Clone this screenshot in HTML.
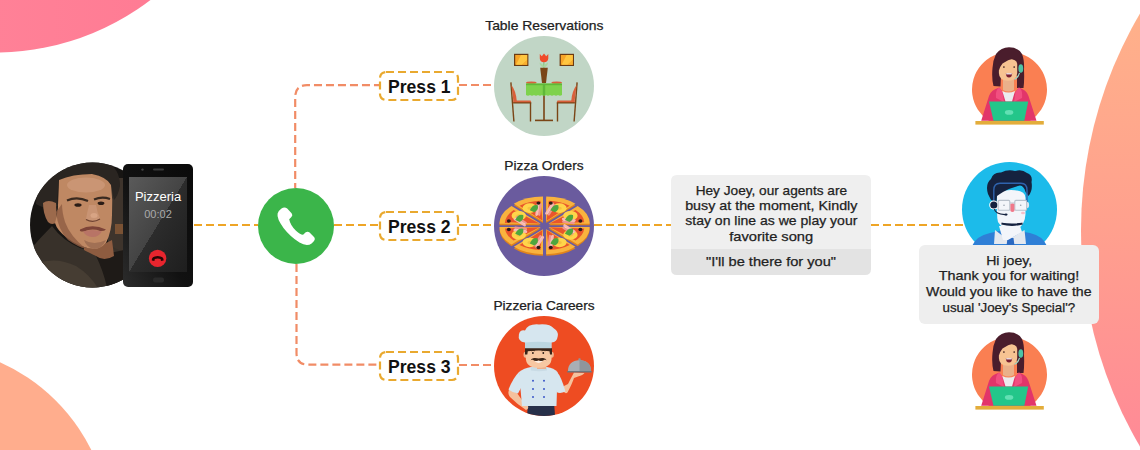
<!DOCTYPE html>
<html><head><meta charset="utf-8">
<style>
html,body{margin:0;padding:0;background:#fff;width:1140px;height:450px;overflow:hidden}
svg{display:block}
text{font-family:"Liberation Sans",sans-serif}
</style></head><body>
<svg width="1140" height="450" viewBox="0 0 1140 450">
<defs>
  <linearGradient id="gTL" x1="0" y1="0" x2="1" y2="0">
    <stop offset="0" stop-color="#ff8a9c"/><stop offset="1" stop-color="#ff7892"/>
  </linearGradient>
  <linearGradient id="gR" gradientUnits="userSpaceOnUse" x1="0" y1="10" x2="0" y2="445">
    <stop offset="0" stop-color="#ffb18a"/><stop offset="0.5" stop-color="#ffa08e"/><stop offset="1" stop-color="#ff8a96"/>
  </linearGradient>
  <clipPath id="cChef"><circle cx="50" cy="50" r="50"/></clipPath>
  <clipPath id="cJoey"><circle cx="92.5" cy="225" r="62.5"/></clipPath>
  <linearGradient id="gScreen" x1="0" y1="0" x2="1" y2="1">
    <stop offset="0" stop-color="#5a5a5a"/><stop offset="0.5" stop-color="#444"/><stop offset="0.5" stop-color="#2c2c2c"/><stop offset="1" stop-color="#1e1e1e"/>
  </linearGradient>
  <g id="agentF">
    <path d="M24.15 81 A37.5 37.5 0 1 1 64.85 81 Z" fill="#fa7f52"/>
    <!-- hair back -->
    <path d="M28.5 46 Q26.5 38 27.5 28 Q28 20 31 14 Q36 7.2 44 7.2 Q53 7.2 57 14 Q59.5 20 59 30 Q59.5 40 58.5 48 L52 48 L52 36 H36 L35.5 46.5Z" fill="#4a1d2c"/>
    <!-- neck -->
    <path d="M38 38 H49 V50 Q43.5 53 38 50Z" fill="#eab08a"/>
    <!-- face -->
    <path d="M33.9 24 Q34 19 43 19 Q52 19 52.2 24 V33 Q52 40.7 43 40.7 Q34 40.7 33.9 33Z" fill="#f7c392"/>
    <!-- bangs -->
    <path d="M30 26 Q31 9 45 9 Q55 9 56.5 18 L53.5 25 Q52.5 19.5 49 18.2 Q43 19.5 37.5 23.5 Q35 26.5 33.9 30.5 Z" fill="#4a1d2c"/>
    <!-- eyes -->
    <circle cx="38.9" cy="27" r="0.85" fill="#3a1a1a"/>
    <circle cx="49.2" cy="27" r="0.85" fill="#3a1a1a"/>
    <!-- mouth -->
    <path d="M40.8 33.2 H47.2 Q47 37.4 44 37.4 Q41 37.4 40.8 33.2Z" fill="#7a1f32"/>
    <path d="M41.2 33.2 H46.8 V34.4 H41.2Z" fill="#fff"/>
    <!-- headset -->
    <ellipse cx="55.8" cy="28.5" rx="2.4" ry="4.3" fill="#4ec3a4"/>
    <path d="M54.5 33 Q53.5 37 49.5 39.5" stroke="#9ad8c6" stroke-width="1.1" fill="none"/>
    <!-- jacket -->
    <path d="M16.2 80.7 L24 56 Q26 50 34.3 47.6 L43.5 60 L53.9 47.6 Q61.5 50 63.5 56 L71.5 80.7Z" fill="#e2356a"/>
    <path d="M34.3 47.6 Q30 50 31 58 L39 62 L37.5 52Z" fill="#f14f80"/>
    <path d="M53.9 47.6 Q58 50 57 58 L49 62 L50.5 52Z" fill="#f14f80"/>
    <!-- shirt -->
    <path d="M37.3 51 Q43.5 54 50 51 L47 61.6 H40.5Z" fill="#ebebee"/>
    <!-- laptop -->
    <path d="M24 61.6 H63.2 L59.3 80.7 H28.5Z" fill="#23c68a"/>
    <ellipse cx="44.1" cy="72.4" rx="4.2" ry="2.3" fill="#62e0b4"/>
    <!-- desk -->
    <rect x="10.4" y="81" width="68.4" height="3.6" fill="#e3ad3b"/>
  </g>
  <linearGradient id="gBody" x1="1" y1="0" x2="0" y2="1">
    <stop offset="0" stop-color="#0a0a0a"/><stop offset="0.55" stop-color="#111"/><stop offset="1" stop-color="#2c2c2c"/>
  </linearGradient>
</defs>

<!-- background blobs -->
<circle cx="-5" cy="-204" r="256.5" fill="url(#gTL)"/>
<circle cx="-76" cy="532.6" r="186.6" fill="#ffad8d"/>
<circle cx="1508" cy="230" r="427" fill="url(#gR)"/>

<!-- connector lines -->
<g fill="none" stroke-width="2.2">
  <path d="M193 225 H258" stroke="#eea526" stroke-dasharray="8 4" stroke-dashoffset="-1"/>
  <path d="M334 225 H379" stroke="#eea526" stroke-dasharray="8 4"/>
  <path d="M459 225 H494" stroke="#eea526" stroke-dasharray="8 4"/>
  <path d="M594 225 H671" stroke="#eea526" stroke-dasharray="8 4"/>
  <path d="M871 225 H963" stroke="#eea526" stroke-dasharray="8 4"/>
  <path d="M295.2 188 V97 Q295.2 85.2 307 85.2 H379" stroke="#f18c66" stroke-dasharray="8 4" stroke-dashoffset="3"/>
  <path d="M459 85 H494" stroke="#f18c66" stroke-dasharray="8 4"/>
  <path d="M296.5 264 V353 Q296.5 364.6 308 364.6 H379" stroke="#f18c66" stroke-dasharray="8 4"/>
  <path d="M459 365 H494" stroke="#f18c66" stroke-dasharray="8 4"/>
</g>

<!-- press boxes -->
<g fill="#fff" stroke="#e9a92f" stroke-width="2.2" stroke-dasharray="8 4">
  <rect x="380" y="72" width="78" height="28" rx="6"/>
  <rect x="380" y="212" width="78" height="28" rx="6"/>
  <rect x="380" y="352" width="78" height="28" rx="6"/>
</g>
<g font-weight="bold" font-size="17.6" fill="#111" text-anchor="middle">
  <text x="419.3" y="92.7" textLength="62.6" lengthAdjust="spacingAndGlyphs">Press 1</text>
  <text x="419.3" y="232.7" textLength="62.6" lengthAdjust="spacingAndGlyphs">Press 2</text>
  <text x="419.3" y="372.7" textLength="62.6" lengthAdjust="spacingAndGlyphs">Press 3</text>
</g>

<!-- Joey photo placeholder -->
<g clip-path="url(#cJoey)">
  <rect x="28" y="160" width="130" height="130" fill="#171513"/>
  <!-- right background -->
  <rect x="108" y="178" width="22" height="75" fill="#3e342c"/>
  <rect x="115" y="224" width="10" height="10" fill="#7a5234"/>
  <!-- jacket -->
  <path d="M28 252 Q40 238 52 226 Q62 240 80 248 L96 252 L110 246 L128 254 L160 262 V292 H28Z" fill="#38312a"/>
  <path d="M34 264 Q56 256 76 266 Q92 276 100 292 H38Z" fill="#463d33"/>
  <path d="M42 274 Q62 276 78 292" stroke="#2a241e" stroke-width="1.2" fill="none"/>
  <path d="M96 256 L124 250 V292 H108 Q104 272 96 256Z" fill="#1e1a17"/>
  <!-- neck -->
  <path d="M84 247 Q96 251 106 243 L112 240 L114 256 Q104 262 96 256 Q88 252 84 250Z" fill="#8e5c40"/>
  <!-- hair -->
  <path d="M36 204 Q36 176 58 166 Q84 156 106 162 Q120 168 120 186 Q118 196 114 200 L111 186 Q107 177 92 174 Q72 174 59 180 Q57 192 58 206 L50 208 Q42 208 36 204Z" fill="#2a2521"/>
  <!-- ear -->
  <path d="M43 203 Q48 199 56 203 L57 222 Q52 226 48 222 Q43 214 43 203Z" fill="#9c6a4c"/>
  <!-- face -->
  <path d="M59 180 Q72 174 92 174 Q107 177 111 185 Q113 200 112 215 Q112 231 106 243 Q100 249 94 249 Q80 248 66 237 Q57 230 55 223 Q58 212 58 205 Z" fill="#bf8863"/>
  <!-- forehead highlight -->
  <ellipse cx="86" cy="185" rx="19" ry="7.5" fill="#cd9a7a" opacity="0.75"/>
  <!-- cheek shadow left -->
  <path d="M56 212 Q58 230 68 240 Q78 247 86 249 Q70 236 65 222 Q62 212 62 204Z" fill="#8e5c42" opacity="0.8"/>
  <!-- brows -->
  <path d="M67 200.5 Q77 196 88 201" stroke="#3a2a20" stroke-width="2.2" fill="none"/>
  <path d="M94 199.5 Q102 196 110 199" stroke="#3a2a20" stroke-width="2.2" fill="none"/>
  <!-- eyes -->
  <ellipse cx="78" cy="205" rx="3.6" ry="1.8" fill="#2a1c16"/>
  <ellipse cx="101" cy="203.3" rx="3.4" ry="1.8" fill="#2a1c16"/>
  <!-- nose -->
  <path d="M89 205 Q87 213 86 219 Q90 223 94 222 Q99 222 100 218 Q97 212 96 205Z" fill="#c99474"/>
  <ellipse cx="94" cy="215.5" rx="3.5" ry="2.5" fill="#d8a484"/>
  <path d="M86 219.5 Q93 223.5 100 219" stroke="#6e4230" stroke-width="1.2" fill="none"/>
  <!-- lips -->
  <path d="M80 229.5 Q92 223 106 229.5 Q104 231.5 100 231 Q92 228 84 231.5 Q79 232 80 229.5Z" fill="#7e4438"/>
  <path d="M83 231.5 Q92 228.5 102 231.5 Q98 237.5 92 237 Q86 236.5 83 231.5Z" fill="#b87466"/>
  <!-- chin shadow -->
  <path d="M84 240 Q94 246 106 240 Q102 249 94 249 Q86 247 84 240Z" fill="#9a6a50" opacity="0.8"/>
</g>

<!-- phone -->
<rect x="123" y="164" width="70" height="123" rx="5" fill="url(#gBody)"/>
<rect x="129" y="177" width="58" height="95" fill="url(#gScreen)"/>
<circle cx="142.5" cy="169.6" r="1.2" fill="#444"/>
<rect x="153" y="168.6" width="11" height="2" rx="1" fill="#3a3a3a"/>
<rect x="153" y="277.5" width="11" height="5" rx="2" fill="#2a2a2a"/>
<text x="158" y="201" font-size="13" fill="#fff" text-anchor="middle">Pizzeria</text>
<text x="158" y="218" font-size="11" fill="#aaa" text-anchor="middle">00:02</text>
<circle cx="157.6" cy="258.4" r="8.7" fill="#e8252e"/>
<path d="M151.8 260.6 Q151.2 256.4 157.7 256 Q164.2 256.4 163.6 260.6 L161 260.9 L160.6 258.9 Q157.7 258.1 154.8 258.9 L154.4 260.9Z" fill="#2a0606"/>

<!-- green call circle -->
<circle cx="296" cy="226" r="38" fill="#3bb54a"/>
<path transform="translate(270 200)" d="M11.5 8.6 Q14.5 6.2 17.2 8.6 L21.6 13.2 Q23.2 15.2 21.4 17 L19.2 19.2 Q20.2 25 26 30.8 Q31 35.2 33.4 34.6 L35.4 32.6 Q37.6 30.8 39.6 32.6 L44 37 Q45.8 39.2 43.6 41.4 L41.6 43.4 Q37 47 29.5 42.6 Q20 36.5 13.5 28 Q6.5 18.5 7.6 13.6 Q8.4 10.8 11.5 8.6Z" fill="#fff"/>

<!-- titles -->
<g font-size="13" fill="#222" stroke="#222" stroke-width="0.25" text-anchor="middle">
  <text x="544.3" y="29.6" textLength="118.2" lengthAdjust="spacingAndGlyphs">Table Reservations</text>
  <text x="544" y="169.8" textLength="79.3" lengthAdjust="spacingAndGlyphs">Pizza Orders</text>
  <text x="544" y="309.8" textLength="101.2" lengthAdjust="spacingAndGlyphs">Pizzeria Careers</text>
</g>

<!-- service circles -->
<circle cx="544" cy="86" r="50" fill="#c1d6c6"/>
<g transform="translate(494 36)">
  <!-- frames -->
  <rect x="20" y="17.8" width="14.4" height="12.2" fill="#6b3a12"/>
  <path d="M21.2 19 H33.2 V28.8 H21.2Z" fill="#f7a428"/>
  <path d="M27 19 H33.2 V24 L28 28.8 H22Z" fill="#ffc640"/>
  <path d="M33.2 24 V28.8 H28Z" fill="#f9b030"/>
  <rect x="65.6" y="17.8" width="14.4" height="12.2" fill="#6b3a12"/>
  <path d="M66.8 19 H78.8 V28.8 H66.8Z" fill="#f7a428"/>
  <path d="M72.6 19 H78.8 V24 L73.6 28.8 H67.6Z" fill="#ffc640"/>
  <path d="M78.8 24 V28.8 H73.6Z" fill="#f9b030"/>
  <!-- tulip -->
  <path d="M49.8 25 V32" stroke="#8fc88a" stroke-width="1.4"/>
  <path d="M49.8 31.5 Q45.5 30 45.6 26.5 Q48.5 27.5 49.8 30Z" fill="#a9d8a0"/>
  <path d="M49.8 31.5 Q54 30 54 26.5 Q51 27.5 49.8 30Z" fill="#a9d8a0"/>
  <path d="M45.8 18 L47.8 20.2 L50 17.4 L52.2 20.2 L54.3 18 L54.3 22.5 Q54 26.2 50 26.2 Q46 26.2 45.8 22.5Z" fill="#f04a2a"/>
  <!-- vase -->
  <path d="M46.2 31.8 H53.8 L52 47 H48Z" fill="#7a4516"/>
  <!-- plates -->
  <ellipse cx="37.3" cy="46.8" rx="5.3" ry="1.3" fill="#d9603b"/>
  <ellipse cx="62.7" cy="46.8" rx="5.3" ry="1.3" fill="#d9603b"/>
  <!-- chairs -->
  <g fill="#7a4516">
    <path d="M16.2 46.5 L17.6 46.3 L20.6 85.5 L19.2 85.5Z"/>
    <rect x="35.8" y="66.5" width="1.4" height="19"/>
    <path d="M83.8 46.5 L82.4 46.3 L79.4 85.5 L80.8 85.5Z"/>
    <rect x="62.8" y="66.5" width="1.4" height="19"/>
  </g>
  <path d="M17.4 49 Q22 55 22.8 65 L19.4 65Z" fill="#d9603b"/>
  <path d="M82.6 49 Q78 55 77.2 65 L80.6 65Z" fill="#d9603b"/>
  <path d="M19 64.5 H36.5 Q37.5 65.5 37 67 H19.4Z" fill="#d9603b"/>
  <path d="M19 66.2 H37.2 V67.6 H19.2Z" fill="#7a4516"/>
  <path d="M81 64.5 H63.5 Q62.5 65.5 63 67 H80.6Z" fill="#d9603b"/>
  <path d="M81 66.2 H62.8 V67.6 H80.8Z" fill="#7a4516"/>
  <!-- table -->
  <rect x="49.2" y="58" width="1.6" height="26.5" fill="#7a4516"/>
  <rect x="41" y="83.6" width="18" height="1.6" fill="#7a4516"/>
  <path d="M32 47.6 H68 V59 Q66 60.5 64 59 Q62 60.5 60 59 Q58 60.5 56 59 Q54 60.5 52 59 Q50 60.5 48 59 Q46 60.5 44 59 Q42 60.5 40 59 Q38 60.5 36 59 Q34 60.5 32 59Z" fill="#7ed24c"/>
  <rect x="32" y="47.6" width="36" height="1.6" fill="#5fb83a"/>
  <rect x="48.8" y="47.6" width="2.4" height="12" fill="#5fb83a"/>
</g>
<circle cx="544" cy="226" r="50" fill="#6a5b9e"/>
<g id="pizza" transform="translate(494 176)">
<path d="M54.48 52.51 L95.78 52.51 A41.30 25.00 0 0 1 83.68 70.18 Z" fill="#e0841c"/>
<path d="M52.21 54.78 L81.41 72.46 A41.30 25.00 0 0 1 52.21 79.78 Z" fill="#e0841c"/>
<path d="M48.99 54.78 L48.99 79.78 A41.30 25.00 0 0 1 19.79 72.46 Z" fill="#e0841c"/>
<path d="M46.72 52.51 L17.52 70.18 A41.30 25.00 0 0 1 5.42 52.51 Z" fill="#e0841c"/>
<path d="M46.72 49.29 L5.42 49.29 A41.30 25.00 0 0 1 17.52 31.62 Z" fill="#e0841c"/>
<path d="M48.99 47.02 L19.79 29.34 A41.30 25.00 0 0 1 48.99 22.02 Z" fill="#e0841c"/>
<path d="M52.21 47.02 L52.21 22.02 A41.30 25.00 0 0 1 81.41 29.34 Z" fill="#e0841c"/>
<path d="M54.48 49.29 L83.68 31.62 A41.30 25.00 0 0 1 95.78 49.29 Z" fill="#e0841c"/>
<path d="M54.48 50.91 L95.78 50.91 A41.30 25.00 0 0 1 83.68 68.58 Z" fill="#f9b33e"/>
<path d="M52.21 53.18 L81.41 70.86 A41.30 25.00 0 0 1 52.21 78.18 Z" fill="#f9b33e"/>
<path d="M48.99 53.18 L48.99 78.18 A41.30 25.00 0 0 1 19.79 70.86 Z" fill="#f9b33e"/>
<path d="M46.72 50.91 L17.52 68.58 A41.30 25.00 0 0 1 5.42 50.91 Z" fill="#f9b33e"/>
<path d="M46.72 47.69 L5.42 47.69 A41.30 25.00 0 0 1 17.52 30.02 Z" fill="#f9b33e"/>
<path d="M48.99 45.42 L19.79 27.74 A41.30 25.00 0 0 1 48.99 20.42 Z" fill="#f9b33e"/>
<path d="M52.21 45.42 L52.21 20.42 A41.30 25.00 0 0 1 81.41 27.74 Z" fill="#f9b33e"/>
<path d="M54.48 47.69 L83.68 30.02 A41.30 25.00 0 0 1 95.78 47.69 Z" fill="#f9b33e"/>
<path d="M55.59 51.21 L90.22 52.41 A34.69 20.00 0 0 1 81.55 64.48 Z" fill="#e9552b"/>
<path d="M52.67 53.92 L75.68 68.88 A34.69 20.00 0 0 1 54.75 73.88 Z" fill="#e9552b"/>
<path d="M48.53 53.92 L46.45 73.88 A34.69 20.00 0 0 1 25.52 68.88 Z" fill="#e9552b"/>
<path d="M45.61 51.21 L19.65 64.48 A34.69 20.00 0 0 1 10.98 52.41 Z" fill="#e9552b"/>
<path d="M45.61 47.39 L10.98 46.19 A34.69 20.00 0 0 1 19.65 34.12 Z" fill="#e9552b"/>
<path d="M48.53 44.68 L25.52 29.72 A34.69 20.00 0 0 1 46.45 24.72 Z" fill="#e9552b"/>
<path d="M52.67 44.68 L54.75 24.72 A34.69 20.00 0 0 1 75.68 29.72 Z" fill="#e9552b"/>
<path d="M55.59 47.39 L81.55 34.12 A34.69 20.00 0 0 1 90.22 46.19 Z" fill="#e9552b"/>
<ellipse cx="76.41" cy="58.91" rx="7.2" ry="4.8" fill="#ffd54a"/>
<ellipse cx="76.41" cy="58.91" rx="2.4" ry="1.5" fill="#f5c040"/>
<g transform="translate(74.66 53.55) rotate(32.2)"><rect x="-7" y="-2.6" width="14" height="2.4" rx="1.2" fill="#f7b8b2"/><rect x="-6.5" y="0.2" width="13" height="2.2" rx="1.1" fill="#ef9590"/><rect x="-6" y="-0.4" width="12" height="0.6" fill="#fbe0dc"/></g>
<path d="M70.97 57.67 Q73.97 51.17 78.97 52.67 Q79.97 57.67 75.47 59.67Z" fill="#4fa63e"/>
<ellipse cx="86.37" cy="53.54" rx="2" ry="1.7" fill="#2b1a17"/>
<ellipse cx="65.43" cy="66.45" rx="7.2" ry="4.8" fill="#ffd54a"/>
<ellipse cx="65.43" cy="66.45" rx="2.4" ry="1.5" fill="#f5c040"/>
<g transform="translate(56.57 65.40) rotate(97.8)"><rect x="-7" y="-2.6" width="14" height="2.4" rx="1.2" fill="#f7b8b2"/><rect x="-6.5" y="0.2" width="13" height="2.2" rx="1.1" fill="#ef9590"/><rect x="-6" y="-0.4" width="12" height="0.6" fill="#fbe0dc"/></g>
<path d="M56.40 67.38 Q59.40 60.88 64.40 62.38 Q65.40 67.38 60.90 69.38Z" fill="#4fa63e"/>
<ellipse cx="56.79" cy="71.49" rx="2" ry="1.7" fill="#2b1a17"/>
<ellipse cx="35.77" cy="66.45" rx="7.2" ry="4.8" fill="#ffd54a"/>
<ellipse cx="35.77" cy="66.45" rx="2.4" ry="1.5" fill="#f5c040"/>
<g transform="translate(44.63 65.40) rotate(122.2)"><rect x="-7" y="-2.6" width="14" height="2.4" rx="1.2" fill="#f7b8b2"/><rect x="-6.5" y="0.2" width="13" height="2.2" rx="1.1" fill="#ef9590"/><rect x="-6" y="-0.4" width="12" height="0.6" fill="#fbe0dc"/></g>
<path d="M35.80 67.38 Q38.80 60.88 43.80 62.38 Q44.80 67.38 40.30 69.38Z" fill="#4fa63e"/>
<ellipse cx="44.41" cy="71.49" rx="2" ry="1.7" fill="#2b1a17"/>
<ellipse cx="24.79" cy="58.91" rx="7.2" ry="4.8" fill="#ffd54a"/>
<ellipse cx="24.79" cy="58.91" rx="2.4" ry="1.5" fill="#f5c040"/>
<g transform="translate(26.54 53.55) rotate(187.8)"><rect x="-7" y="-2.6" width="14" height="2.4" rx="1.2" fill="#f7b8b2"/><rect x="-6.5" y="0.2" width="13" height="2.2" rx="1.1" fill="#ef9590"/><rect x="-6" y="-0.4" width="12" height="0.6" fill="#fbe0dc"/></g>
<path d="M21.23 57.67 Q24.23 51.17 29.23 52.67 Q30.23 57.67 25.73 59.67Z" fill="#4fa63e"/>
<ellipse cx="14.83" cy="53.54" rx="2" ry="1.7" fill="#2b1a17"/>
<ellipse cx="24.79" cy="39.69" rx="7.2" ry="4.8" fill="#ffd54a"/>
<ellipse cx="24.79" cy="39.69" rx="2.4" ry="1.5" fill="#f5c040"/>
<g transform="translate(26.54 45.05) rotate(212.2)"><rect x="-7" y="-2.6" width="14" height="2.4" rx="1.2" fill="#f7b8b2"/><rect x="-6.5" y="0.2" width="13" height="2.2" rx="1.1" fill="#ef9590"/><rect x="-6" y="-0.4" width="12" height="0.6" fill="#fbe0dc"/></g>
<path d="M21.23 43.93 Q24.23 37.43 29.23 38.93 Q30.23 43.93 25.73 45.93Z" fill="#4fa63e"/>
<ellipse cx="14.83" cy="45.06" rx="2" ry="1.7" fill="#2b1a17"/>
<ellipse cx="35.77" cy="32.15" rx="7.2" ry="4.8" fill="#ffd54a"/>
<ellipse cx="35.77" cy="32.15" rx="2.4" ry="1.5" fill="#f5c040"/>
<g transform="translate(44.63 33.20) rotate(277.8)"><rect x="-7" y="-2.6" width="14" height="2.4" rx="1.2" fill="#f7b8b2"/><rect x="-6.5" y="0.2" width="13" height="2.2" rx="1.1" fill="#ef9590"/><rect x="-6" y="-0.4" width="12" height="0.6" fill="#fbe0dc"/></g>
<path d="M35.80 34.22 Q38.80 27.72 43.80 29.22 Q44.80 34.22 40.30 36.22Z" fill="#4fa63e"/>
<ellipse cx="44.41" cy="27.11" rx="2" ry="1.7" fill="#2b1a17"/>
<ellipse cx="65.43" cy="32.15" rx="7.2" ry="4.8" fill="#ffd54a"/>
<ellipse cx="65.43" cy="32.15" rx="2.4" ry="1.5" fill="#f5c040"/>
<g transform="translate(56.57 33.20) rotate(302.2)"><rect x="-7" y="-2.6" width="14" height="2.4" rx="1.2" fill="#f7b8b2"/><rect x="-6.5" y="0.2" width="13" height="2.2" rx="1.1" fill="#ef9590"/><rect x="-6" y="-0.4" width="12" height="0.6" fill="#fbe0dc"/></g>
<path d="M56.40 34.22 Q59.40 27.72 64.40 29.22 Q65.40 34.22 60.90 36.22Z" fill="#4fa63e"/>
<ellipse cx="56.79" cy="27.11" rx="2" ry="1.7" fill="#2b1a17"/>
<ellipse cx="76.41" cy="39.69" rx="7.2" ry="4.8" fill="#ffd54a"/>
<ellipse cx="76.41" cy="39.69" rx="2.4" ry="1.5" fill="#f5c040"/>
<g transform="translate(74.66 45.05) rotate(367.8)"><rect x="-7" y="-2.6" width="14" height="2.4" rx="1.2" fill="#f7b8b2"/><rect x="-6.5" y="0.2" width="13" height="2.2" rx="1.1" fill="#ef9590"/><rect x="-6" y="-0.4" width="12" height="0.6" fill="#fbe0dc"/></g>
<path d="M70.97 43.93 Q73.97 37.43 78.97 38.93 Q79.97 43.93 75.47 45.93Z" fill="#4fa63e"/>
<ellipse cx="86.37" cy="45.06" rx="2" ry="1.7" fill="#2b1a17"/>

</g>
<circle cx="544" cy="366" r="50" fill="#ee4c22"/>
<g id="chef" transform="translate(494 316)" clip-path="url(#cChef)">
  <!-- pants -->
  <path d="M33.9 89.5 H60.3 L61 100 H33Z" fill="#27304a"/>
  <!-- left arm (hand on hip) -->
  <path d="M15.5 73 Q13 77 16 81 Q24 89 32 94 Q35 93 34 90 Q27 84 23 77Z" fill="#f5c19d"/>
  <path d="M25 56 Q19 62 14.5 73.5 Q19 77 24 77.5 L28.5 69Z" fill="#d6e6ef"/>
  <!-- right arm (raised holding tray) -->
  <path d="M68.5 74 Q71 79 73.5 76.5 Q78 68 80 62 L84 60.5 Q89 59 90.5 57 L80 56.5 Q77 62 74 68 L70 70Z" fill="#f5c19d"/>
  <path d="M63 56 Q67 60 71.5 75.5 Q66 78 62.5 76Z" fill="#d6e6ef"/>
  <!-- body -->
  <path d="M25 56 Q30 52 37 51 H53 Q60 52 63.5 56 L62.5 90 H28Z" fill="#d6e6ef"/>
  <path d="M36.8 51 H53 V54.5 Q45 56 36.8 54.5Z" fill="#c9dbe5"/>
  <g fill="#3a56c8">
    <circle cx="39" cy="64.8" r="1"/><circle cx="50" cy="64.8" r="1"/>
    <circle cx="39" cy="72.9" r="1"/><circle cx="50" cy="72.9" r="1"/>
    <circle cx="39" cy="80.9" r="1"/><circle cx="50" cy="80.9" r="1"/>
  </g>
  <!-- neck -->
  <rect x="43" y="47" width="9" height="6" fill="#eeb08c"/>
  <!-- ears -->
  <ellipse cx="31.5" cy="38.8" rx="2" ry="3" fill="#f0b48e"/>
  <ellipse cx="57.8" cy="38.8" rx="2" ry="3" fill="#f0b48e"/>
  <!-- face -->
  <path d="M31.8 32 H57.6 V42 Q57.6 51.8 44.7 51.8 Q31.8 51.8 31.8 42Z" fill="#f7c7a2"/>
  <!-- hair -->
  <path d="M31 32 H58 V38.5 L56 38.5 L55.5 35.2 Q44.7 34 33.8 35.2 L33.3 38.5 L31 38.5Z" fill="#3a2418"/>
  <!-- eyes -->
  <path d="M37 34.8 Q39 34 41 34.8 M47.5 34.8 Q49.5 34 51.5 34.8" stroke="#3a2418" stroke-width="0.8" fill="none"/>
  <circle cx="38.9" cy="37" r="0.9" fill="#2a1a14"/>
  <circle cx="49.3" cy="37" r="0.9" fill="#2a1a14"/>
  <!-- mustache + smile -->
  <path d="M40.2 44.8 Q44.6 48.6 49 44.8 Q44.6 45.8 40.2 44.8Z" fill="#fff"/>
  <path d="M36.6 44.2 Q37.4 42.2 40 42 Q43 41.8 44.6 42.6 Q46.2 41.8 49.2 42 Q51.8 42.2 52.6 44.2 Q51.6 43.4 50.4 43.8 Q49 45 47 45 Q45.5 45 44.6 44.2 Q43.7 45 42.2 45 Q40.2 45 38.8 43.8 Q37.6 43.4 36.6 44.2Z" fill="#3a2418"/>
  <!-- hat -->
  <path d="M31 25 Q44 23 57.7 25 V32.3 H31Z" fill="#bcd6e0"/>
  <path d="M31 26.5 Q23.5 25.5 24.9 18.5 Q26 13.5 31 14.5 Q34 7.5 45 8.4 Q56 7.5 60 12.5 Q64.5 15 63.8 20 Q63 26 57.7 26.5 Q44 25 31 26.5Z" fill="#d6e6ef"/>
  <!-- cloche -->
  <path d="M74 55 Q74 45 85.5 44 Q97 45 97 55Z" fill="#a9aeb5"/>
  <path d="M85.5 44 Q97 45 97 55 H85.5Z" fill="#8f959c"/>
  <rect x="84.3" y="42.2" width="2.4" height="2.2" rx="1" fill="#8f959c"/>
  <rect x="73" y="55" width="25" height="1.6" rx="0.8" fill="#6f757c"/>
</g>

<!-- bubble 1 -->
<path d="M677 175 H865 Q871 175 871 181 V249 H671 V181 Q671 175 677 175Z" fill="#efefef"/>
<path d="M671 249 H871 V269 Q871 275 865 275 H677 Q671 275 671 269Z" fill="#e3e3e3"/>
<g font-size="13" fill="#222" stroke="#222" stroke-width="0.25" text-anchor="middle">
  <text x="771.4" y="195.1" textLength="151.4" lengthAdjust="spacingAndGlyphs">Hey Joey, our agents are</text>
  <text x="771.3" y="209.8" textLength="172.3" lengthAdjust="spacingAndGlyphs">busy at the moment, Kindly</text>
  <text x="771.3" y="225.1" textLength="172.1" lengthAdjust="spacingAndGlyphs">stay on line as we play your</text>
  <text x="771.2" y="240.5" textLength="84" lengthAdjust="spacingAndGlyphs">favorite song</text>
  <text x="771" y="266" textLength="130" lengthAdjust="spacingAndGlyphs">"I'll be there for you"</text>
</g>

<!-- agents -->
<circle cx="1009.5" cy="209.5" r="47.5" fill="#1cbbea"/>
<g id="agentM">
  <!-- shoulders -->
  <path d="M972 246 Q976 236 990 233 L1008 229 L1030 233 Q1043 236 1047 246Z" fill="#2f7fd6"/>
  <!-- collar -->
  <path d="M995 230 L1008 240 L1024.5 230 L1026 244 H994Z" fill="#e4e8ef"/>
  <path d="M1007.5 238 H1013.5 L1014.5 246 H1006.5Z" fill="#2a69c2"/>
  <!-- neck/face -->
  <path d="M997 196 Q997 190 1011 190 Q1025.5 190 1025.5 198 V214 Q1025 224 1018 229 L1012 231 Q1002 229 998 222 Q997 218 997 212Z" fill="#f3f5fa"/>
  <path d="M999 226 L1003 240 L1008 240 L1022 232 L1020 226Z" fill="#f3f5fa"/>
  <!-- hair -->
  <path d="M988 194 Q985 184 991 179 Q993 172 1001 172.5 Q1008 169 1015 171 Q1022 169 1027 173 Q1033 175 1031.5 182 Q1033 190 1028.5 196 L1025.5 192 Q1024 186 1020 185.5 Q1010 188 1003 192 Q999 194.5 997 196 L996.5 202 L991 200Z" fill="#15223f"/>
  <!-- headset band -->
  <path d="M993.8 205 V190 Q993.8 183.5 1000 183.3 H1021 Q1027 183.5 1027 190 V205" stroke="#2f63ad" stroke-width="1.4" fill="none"/>
  <!-- ear pieces -->
  <circle cx="993.8" cy="205" r="4.6" fill="#fff"/>
  <circle cx="993.8" cy="205" r="3.6" fill="#15223f"/>
  <ellipse cx="1027.5" cy="205" rx="1.6" ry="3" fill="#dfe4ec"/>
  <!-- glasses -->
  <g fill="#f3f5fa" stroke="#b9c1cc" stroke-width="1.1">
    <rect x="998.2" y="200.4" width="11.6" height="9.8" rx="1"/>
    <rect x="1014.8" y="200.4" width="11.8" height="9.8" rx="1"/>
  </g>
  <path d="M1009.8 203 H1014.8" stroke="#b9c1cc" stroke-width="1"/>
  <circle cx="1004" cy="205.3" r="0.8" fill="#9aa3b0"/>
  <circle cx="1020.7" cy="205.3" r="0.8" fill="#9aa3b0"/>
  <!-- nose -->
  <path d="M1010.4 204 Q1012.5 203 1014.4 204 V211 Q1012.5 213 1010.4 211Z" fill="#f0788a"/>
  <ellipse cx="1023" cy="213" rx="2" ry="1.2" fill="#f6c0c8"/>
  <!-- mic -->
  <path d="M994.5 209 Q995 214 1005 214.6" stroke="#15223f" stroke-width="1.2" fill="none"/>
  <ellipse cx="1006" cy="214.6" rx="1.6" ry="1.1" fill="#15223f"/>
  <!-- mouth -->
  <path d="M1001.5 223.6 Q1012 226.5 1022.5 223.6 Q1012 225 1001.5 223.6Z" stroke="#15223f" stroke-width="1.8" fill="#15223f"/>
</g>
<use href="#agentF" transform="translate(965 40)"/>
<use href="#agentF" transform="translate(965 325)"/>

<!-- bubble 2 -->
<rect x="919" y="245" width="180" height="79" rx="6" fill="#eeeeee"/>
<g font-size="13" fill="#222" stroke="#222" stroke-width="0.25" text-anchor="middle">
  <text x="1009.2" y="265.2" textLength="46" lengthAdjust="spacingAndGlyphs">Hi joey,</text>
  <text x="1009" y="280" textLength="140.7" lengthAdjust="spacingAndGlyphs">Thank you for waiting!</text>
  <text x="1008.8" y="296.2" textLength="165.5" lengthAdjust="spacingAndGlyphs">Would you like to have the</text>
  <text x="1008.8" y="311.9" textLength="132.6" lengthAdjust="spacingAndGlyphs">usual 'Joey's Special'?</text>
</g>
</svg>
</body></html>
